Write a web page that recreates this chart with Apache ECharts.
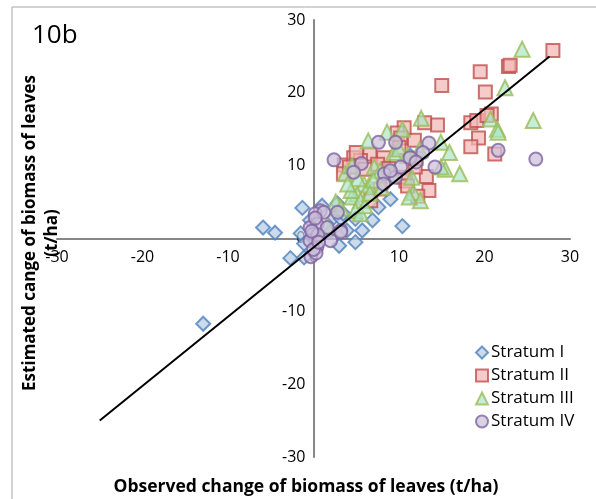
<!DOCTYPE html>
<html><head><meta charset="utf-8">
<script src="https://cdn.jsdelivr.net/npm/echarts@6/dist/echarts.min.js"></script>
<style>html,body{margin:0;padding:0;background:#fff}#c{width:596px;height:499px}</style>
</head><body><div id="c"></div>
<script>
const seriesNames = ['Stratum I', 'Stratum II', 'Stratum III', 'Stratum IV'];
const axisTicks = [-30, -20, -10, 0, 10, 20, 30];
const fitLine = [[-25, -25], [27.6, 25]];

const stratumI = [[-12.9,-11.7],[-5.9,1.5],[-4.5,0.8],[-2.7,-2.7],[-1.3,4.2],[-1.1,-0.7],[-1.5,0.7],[-1.1,-2.6],
  [-0.4,2.5],[1.0,4.5],[2.4,2.9],[3.2,2.7],[3.5,3.4],[3.9,1.1],[3.0,-1.0],[4.9,2.7],[5.7,1.1],[7.6,4.3],
  [6.9,2.5],[9.0,5.4],[10.4,1.7],[0.5,0.3],[2.0,1.0],[2.8,4.8],[4.9,-0.5],[8.6,9.5],[11.3,11.4]];
const stratumII = [[28.0,25.8],[19.5,22.9],[22.8,23.6],[23.0,23.8],[15.0,21.0],[20.1,20.1],[18.4,15.9],[19.1,16.2],
  [20.8,17.1],[20.3,16.9],[19.3,13.8],[18.4,12.6],[21.2,11.6],[14.5,15.6],[13.0,15.9],[11.8,13.5],[10.6,15.2],
  [13.2,8.5],[13.5,6.6],[11.9,9.8],[3.6,10.1],[4.7,11.1],[6.6,11.6],[5.5,10.7],[8.2,11.1],[7.5,10.2],[10.8,7.9],
  [10.6,8.4],[6.7,5.2],[7.8,6.8],[3.5,8.9],[9.8,14.5],[10.2,13.8],[12.0,11.0],[6.0,9.5],[4.2,9.8],[8.8,9.6],
  [10.0,12.5],[5.0,11.8],[12.2,5.8],[11.0,7.2]];
const stratumIII = [[24.4,26.0],[22.4,20.7],[25.7,16.2],[20.7,16.4],[21.5,15.0],[21.6,14.6],[12.6,16.5],[10.4,15.0],
  [8.6,14.6],[6.4,13.4],[14.9,13.2],[15.9,11.8],[17.1,8.9],[15.4,9.5],[14.9,9.8],[11.7,6.3],[12.5,5.2],[11.2,5.7],
  [3.7,8.9],[4.5,10.0],[7.1,9.8],[7.8,9.3],[5.9,7.5],[6.5,7.3],[5.1,6.1],[4.5,5.7],[5.5,5.2],[4.4,6.6],[2.6,5.0],
  [4.9,3.8],[5.5,3.4],[1.6,1.8],[9.4,11.8],[10.0,12.3],[11.0,11.4],[11.5,8.4],[6.0,4.5],[7.0,8.0],[5.2,8.2],
  [3.2,4.2],[8.0,7.0],[9.2,9.0],[6.6,6.2],[12.4,12.2],[4.0,7.5]];
const stratumIV = [[26.0,10.9],[21.6,12.1],[2.4,10.8],[7.6,13.2],[9.6,13.2],[13.5,13.1],[12.8,11.8],[14.2,9.8],
  [5.6,10.3],[4.7,9.1],[8.3,8.9],[8.2,7.5],[9.6,8.4],[10.2,9.8],[11.3,11.1],[2.8,3.6],[0.8,3.8],[0.2,3.4],[3.2,1.1],
  [1.2,3.6],[0.4,2.0],[-0.4,1.5],[0.0,0.6],[-0.4,-0.3],[0.4,-1.2],[2.0,-0.3],[3.2,0.9],[1.6,1.5],[-0.3,-2.5],
  [0.3,-2.0],[0.0,-1.5],[0.5,0.5],[-0.2,1.0],[0.6,-0.5],[0.2,2.8],[9.0,9.3],[12.0,10.5]];

const FONT = '"Open Sans", "Noto Sans", sans-serif';
const styles = [
  {symbol:'diamond', size:14, stroke:'#4F81BD', fill:'rgba(185,205,229,0.9)'},
  {symbol:'rect', size:13, stroke:'#C0504D', fill:'rgba(242,184,183,0.9)'},
  {symbol:'triangle', size:15, stroke:'#9BBB59', fill:'rgba(170,228,196,0.85)'},
  {symbol:'circle', size:13, stroke:'#8064A2', fill:'rgba(204,193,218,0.9)'}
];
const datas = [stratumI, stratumII, stratumIII, stratumIV];

const series = datas.map((d, i) => ({
  name: seriesNames[i], type: 'scatter', data: d,
  symbol: styles[i].symbol, symbolSize: styles[i].size,
  itemStyle: {color: styles[i].fill, borderColor: styles[i].stroke, borderWidth: 2},
  emphasis: {disabled: true}
}));
series.push({
  name: 'fit', type: 'line', data: fitLine, symbol: 'none', z: 5,
  lineStyle: {color: '#000', width: 2}
});

const GL = 57, GR = 26, GT = 20, GB = 42, W = 596, H = 499;
const xZeroOffset = -((W - GL - GR) / 2);
const yZeroOffset = -((H - GT - GB) / 2);

const axisCommon = {
  type: 'value', min: axisTicks[0], max: axisTicks[axisTicks.length - 1], interval: 10,
  splitLine: {show: false}, axisTick: {show: false},
  axisLine: {onZero: false, lineStyle: {color: '#868686', width: 2}},
  axisLabel: {color: '#000', fontSize: 16, fontFamily: FONT}
};

const chart = echarts.init(document.getElementById('c'));
chart.setOption({
  animation: false,
  grid: {left: GL, right: GR, top: GT, bottom: GB},
  xAxis: Object.assign({}, axisCommon, {position: 'bottom', offset: yZeroOffset,
    axisLabel: Object.assign({}, axisCommon.axisLabel, {margin: 11})}),
  yAxis: Object.assign({}, axisCommon, {position: 'left', offset: xZeroOffset,
    axisLabel: Object.assign({}, axisCommon.axisLabel, {margin: 8})}),
  legend: {
    data: seriesNames.map((n, i) => ({name: n, icon: styles[i].symbol})),
    orient: 'vertical', left: 470, top: 339, itemWidth: 12, itemHeight: 12, itemGap: 6, itemGap2: 0,
    textStyle: {fontSize: 17, color: '#000', fontFamily: FONT, padding: [0, 0, 0, -2]}
  },
  graphic: [
    {type: 'rect', shape: {x: 12, y: 7, width: 700, height: 600}, style: {fill: 'none', stroke: '#a6a6a6', lineWidth: 1}, silent: true, z: -10},
    {type: 'text', x: 32, y: 23, style: {text: '10b', font: '26px ' + FONT, fill: '#000'}},
    {type: 'text', x: 41, y: 233, rotation: Math.PI / 2,
      style: {text: 'Estimated cange of biomass of leaves\n(t/ha)', font: 'bold 17px ' + FONT, fill: '#000',
        align: 'center', verticalAlign: 'middle', lineHeight: 22}},
    {type: 'text', x: 306, y: 487,
      style: {text: 'Observed change of biomass of leaves (t/ha)', font: 'bold 17.5px ' + FONT, fill: '#000',
        align: 'center', verticalAlign: 'middle'}}
  ],
  series: series
});
</script></body></html>
